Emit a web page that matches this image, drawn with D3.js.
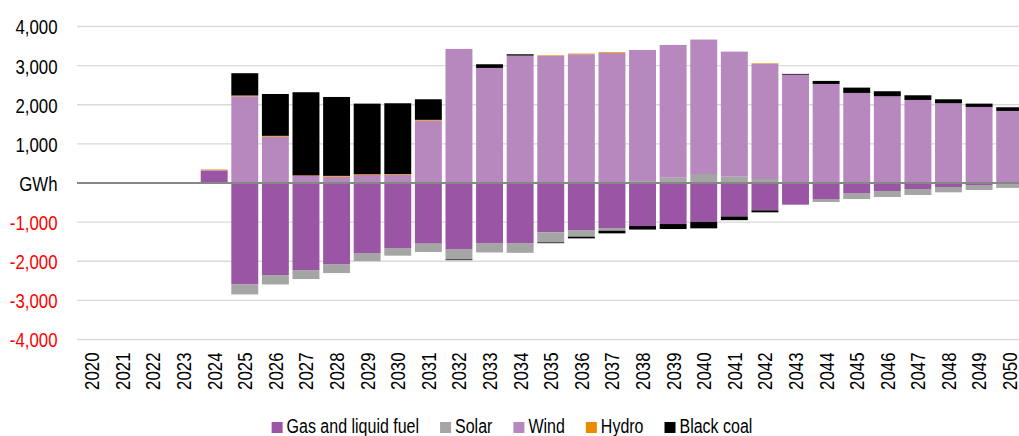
<!DOCTYPE html>
<html><head><meta charset="utf-8">
<script src="https://cdn.jsdelivr.net/npm/d3@7"></script>
<style>
html,body{margin:0;padding:0;background:#fff;}
svg{display:block;font-family:"Liberation Sans",Arial,sans-serif;}
</style></head>
<body>
<svg id="chart" width="1019" height="436"></svg>
<script>
const years = d3.range(2020, 2051).map(String);
const seriesNames = ["Gas and liquid fuel", "Solar", "Wind", "Hydro", "Black coal"];
const seriesColors = ["#9b55a5", "#a5a5a5", "#b688be", "#ed8b00", "#000000"];

const gas = [0, 0, 0, 0, 320, -2592, -2353, -2225, -2072, -1790, -1662, -1551, -1688, -1535, -1535, -1262, -1202, -1151, -1100, -1049, -997, -855, -699, -554, -409, -256, -205, -153, -102, -51, -26];
const solar = [15, 10, 20, 20, 0, -256, -240, -230, -230, -205, -196, -213, -264, -240, -250, -256, -170, -68, 50, 136, 230, 162, 102, 0, -77, -153, -153, -153, -136, -128, -100];
const wind = [0, 0, 0, 0, 10, 2216, 1185, 179, 162, 205, 213, 1594, 3427, 2941, 3256, 3250, 3290, 3322, 3351, 3393, 3436, 3196, 2944, 2768, 2532, 2302, 2217, 2123, 2038, 1944, 1842];
const hydro = [0, 0, 0, 0, 15, 20, 20, 15, 20, 20, 15, 20, 0, 0, 0, 15, 18, 20, 0, 0, 0, 0, 15, 0, 0, 0, 0, 0, 0, 0, 0];
const blackCoal = [0, 0, 0, 0, 0, 570, 1070, 2126, 2017, 1804, 1810, 526, -20, 94, 34, -20, -43, -68, -90, -128, -162, -94, -51, 20, 77, 136, 128, 119, 102, 85, 94];
const yTicks = [-4000, -3000, -2000, -1000, 0, 1000, 2000, 3000, 4000];

const seriesValues = [gas, solar, wind, hydro, blackCoal];
const rows = years.map((yr, i) => {
  const r = {year: yr};
  seriesNames.forEach((n, s) => r[n] = seriesValues[s][i]);
  return r;
});

const svg = d3.select("#chart");
const SX = 0.82; // narrow font compression

const x = d3.scaleBand().domain(years).range([76.5, 1025]).paddingInner(0.12).paddingOuter(0.06);
const y = d3.scaleLinear().domain([-4000, 4000]).range([339.5, 26.5]);

// gridlines
svg.append("g").selectAll("line").data(yTicks.filter(d => d !== 0)).join("line")
  .attr("x1", 77).attr("x2", 1019)
  .attr("y1", d => y(d)).attr("y2", d => y(d))
  .attr("stroke", "#d9d9d9").attr("stroke-width", 1.3);

// stacked bars
const stack = d3.stack().keys(seriesNames).offset(d3.stackOffsetDiverging);
const stacked = stack(rows);
svg.append("g").selectAll("g").data(stacked).join("g")
  .attr("fill", (d, i) => seriesColors[i])
  .selectAll("rect").data(d => d).join("rect")
  .attr("x", d => x(d.data.year))
  .attr("width", x.bandwidth())
  .attr("y", d => y(Math.max(d[0], d[1])))
  .attr("height", d => Math.abs(y(d[0]) - y(d[1])));

// zero line
svg.append("line").attr("x1", 77).attr("x2", 1019)
  .attr("y1", y(0)).attr("y2", y(0))
  .attr("stroke", "#878787").attr("stroke-width", 1.8);

// y axis
const fmt = v => v === 0 ? "GWh" : (v < 0 ? "-" : "") + d3.format(",")(Math.abs(v));
const yAxis = svg.append("g").attr("transform", "translate(57.5,0)")
  .call(d3.axisLeft(y).tickValues(yTicks).tickFormat(fmt).tickSize(0).tickPadding(0));
yAxis.select(".domain").remove();
yAxis.selectAll("text")
  .attr("x", 0).attr("dy", "0.36em")
  .attr("transform", `scale(${SX},1)`)
  .style("font-size", "20.5px")
  .style("font-family", '"Liberation Sans",Arial,sans-serif')
  .attr("fill", d => d < 0 ? "#ff0000" : "#000");

// x axis
const xAxis = svg.append("g").attr("transform", "translate(0,352.5)")
  .call(d3.axisBottom(x).tickSize(0).tickPadding(0));
xAxis.select(".domain").remove();
xAxis.selectAll("text")
  .attr("x", 0).attr("y", 0).attr("dy", "0.36em")
  .attr("text-anchor", "end")
  .attr("transform", `rotate(-90) scale(${SX},1)`)
  .style("font-size", "20.5px")
  .style("font-family", '"Liberation Sans",Arial,sans-serif')
  .attr("fill", "#000");

// legend
const legend = svg.append("g");
const items = legend.selectAll("g").data(seriesNames).join("g");
items.append("rect").attr("width", 11).attr("height", 11).attr("y", 422)
  .attr("fill", (d, i) => seriesColors[i]);
items.append("text").text(d => d)
  .attr("y", 433).attr("font-size", 19.5).attr("fill", "#000");
let widths = [];
items.select("text").each(function() { widths.push(this.getComputedTextLength() * SX); });
const sqW = 11, sqGap = 4, itemGap = 21;
const total = d3.sum(widths) + seriesNames.length * (sqW + sqGap) + (seriesNames.length - 1) * itemGap;
let cx = 512 - total / 2;
items.each(function(d, i) {
  const g = d3.select(this);
  g.select("rect").attr("x", cx);
  g.select("text").attr("transform", `translate(${cx + sqW + sqGap},0) scale(${SX},1)`);
  cx += sqW + sqGap + widths[i] + itemGap;
});
</script>
</body></html>
